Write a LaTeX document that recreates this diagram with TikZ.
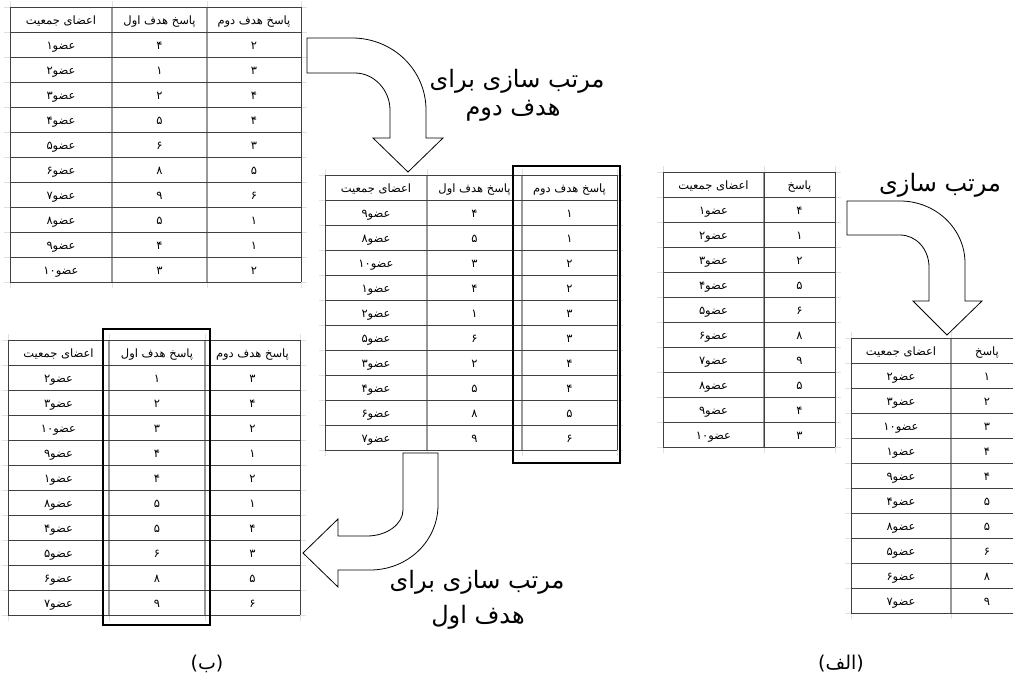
\documentclass[tikz,border=0pt]{standalone}
\usepackage{fontspec}
\newfontfamily\fa[Script=Arabic]{DejaVu Sans}
\TeXXeTstate=1
\newcommand\tblgrid[4]{%
  \pgfmathsetmacro\tbB{#2+275}%
  \foreach \x in {#1,#3,#4} \draw[stub] (\x,#2-6) -- (\x,\tbB+6);
  \foreach \i in {0,...,11} \draw[stub] (#1-6,#2+25*\i) -- (#4+6,#2+25*\i);
  \foreach \x in {#3} \draw[vl] (\x,#2) -- (\x,\tbB);
  \foreach \i in {0,...,11} \draw[hl] (#1,#2+25*\i) -- (#4,#2+25*\i);
  \draw[hl] (#1,#2) -- (#1,\tbB) (#4,#2) -- (#4,\tbB);
}
\begin{document}
\begin{tikzpicture}[x=1pt,y=-1pt,
  hl/.style={draw=black!75,line width=0.9pt},
  vl/.style={draw=black!40,line width=1.3pt},
  stub/.style={draw=black!12,line width=0.6pt},
  cell/.style={font=\fa\fontsize{11.5}{13}\selectfont,inner sep=0pt,anchor=base},
  selbox/.style={draw=black,line width=1.6pt},
  bigarrow/.style={draw=black,line width=0.8pt,fill=white,line join=miter},
  lbl/.style={font=\fa\fontsize{24}{28}\selectfont,inner sep=0pt,anchor=base},
  captext/.style={font=\fa\fontsize{19}{22}\selectfont,inner sep=0pt},
]
\fill[white] (0,0) rectangle (1013,686);
\useasboundingbox (0,0) rectangle (1013,686);

% ---------- table 1 (top left) ----------
\tblgrid{10}{7}{112,207}{301}
\node[cell] (ta-h1) at (61,24) {\beginR اعضای جمعیت\endR};
\node[cell] (ta-h2) at (159.5,24) {\beginR پاسخ هدف اول\endR};
\node[cell] (ta-h3) at (254,24) {\beginR پاسخ هدف دوم\endR};
\foreach \m/\a/\b [count=\i] in {۱/۴/۲,۲/۱/۳,۳/۲/۴,۴/۵/۴,۵/۶/۳,۶/۸/۵,۷/۹/۶,۸/۵/۱,۹/۴/۱,۱۰/۳/۲}{
  \node[cell] (ta-m\i) at (61,7+25*\i+17) {\beginR عضو\m\endR};
  \node[cell] (ta-a\i) at (159.5,7+25*\i+17) {\a};
  \node[cell] (ta-b\i) at (254,7+25*\i+17) {\b};
}

% ---------- table 2 (middle) ----------
\tblgrid{325}{175}{427,522}{617}
\node[cell] (tb-h1) at (376,192) {\beginR اعضای جمعیت\endR};
\node[cell] (tb-h2) at (474.5,192) {\beginR پاسخ هدف اول\endR};
\node[cell] (tb-h3) at (569.5,192) {\beginR پاسخ هدف دوم\endR};
\foreach \m/\a/\b [count=\i] in {۹/۴/۱,۸/۵/۱,۱۰/۳/۲,۱/۴/۲,۲/۱/۳,۵/۶/۳,۳/۲/۴,۴/۵/۴,۶/۸/۵,۷/۹/۶}{
  \node[cell] (tb-m\i) at (376,175+25*\i+17) {\beginR عضو\m\endR};
  \node[cell] (tb-a\i) at (474.5,175+25*\i+17) {\a};
  \node[cell] (tb-b\i) at (569.5,175+25*\i+17) {\b};
}
\draw[selbox] (513,166) rectangle (620,463);

% ---------- table 3 (bottom left) ----------
\tblgrid{8}{340}{109,205}{300}
\node[cell] (tc-h1) at (58.5,357) {\beginR اعضای جمعیت\endR};
\node[cell] (tc-h2) at (157,357) {\beginR پاسخ هدف اول\endR};
\node[cell] (tc-h3) at (252.5,357) {\beginR پاسخ هدف دوم\endR};
\foreach \m/\a/\b [count=\i] in {۲/۱/۳,۳/۲/۴,۱۰/۳/۲,۹/۴/۱,۱/۴/۲,۸/۵/۱,۴/۵/۴,۵/۶/۳,۶/۸/۵,۷/۹/۶}{
  \node[cell] (tc-m\i) at (58.5,340+25*\i+17) {\beginR عضو\m\endR};
  \node[cell] (tc-a\i) at (157,340+25*\i+17) {\a};
  \node[cell] (tc-b\i) at (252.5,340+25*\i+17) {\b};
}
\draw[selbox] (103,329) rectangle (210,625);

% ---------- table 4 (right, original) ----------
\tblgrid{663}{172}{764}{835}
\draw[hl] (764,172) -- (764,447);
\node[cell] (td-h1) at (713.5,189) {\beginR اعضای جمعیت\endR};
\node[cell] (td-h2) at (799.5,189) {\beginR پاسخ\endR};
\foreach \m/\a [count=\i] in {۱/۴,۲/۱,۳/۲,۴/۵,۵/۶,۶/۸,۷/۹,۸/۵,۹/۴,۱۰/۳}{
  \node[cell] (td-m\i) at (713.5,172+25*\i+17) {\beginR عضو\m\endR};
  \node[cell] (td-a\i) at (799.5,172+25*\i+17) {\a};
}

% ---------- table 5 (bottom right, sorted) ----------
\tblgrid{851}{338}{951}{1030}
\node[cell] (te-h1) at (901,355) {\beginR اعضای جمعیت\endR};
\node[cell] (te-h2) at (987,355) {\beginR پاسخ\endR};
\foreach \m/\a [count=\i] in {۲/۱,۳/۲,۱۰/۳,۱/۴,۹/۴,۴/۵,۸/۵,۵/۶,۶/۸,۷/۹}{
  \node[cell] (te-m\i) at (901,338+25*\i+17) {\beginR عضو\m\endR};
  \node[cell] (te-a\i) at (987,338+25*\i+17) {\a};
}

% ---------- arrows ----------
% top: sort by second objective
\draw[bigarrow] (307,38) -- (352,38) .. controls (393,38) and (426,70) .. (426,110)
  -- (426,138) -- (443,138) -- (408,172) -- (373,138) -- (390,138) -- (390,110)
  .. controls (390,90) and (374,73) .. (355,73) -- (307,73) -- cycle;
% right: sort
\draw[bigarrow] (847,201) -- (900,201) .. controls (936,201) and (965,229) .. (965,263)
  -- (965,301) -- (982,301) -- (947,335) -- (913,301) -- (929,301) -- (929,267)
  .. controls (929,249) and (916,235) .. (900,235) -- (847,235) -- cycle;
% bottom: sort by first objective
\draw[bigarrow] (403,453) -- (438,453) -- (438,505) .. controls (438,541) and (408,570) .. (370,570)
  -- (338,570) -- (338,587) -- (303,553) -- (338,519) -- (338,536) -- (367,536)
  .. controls (387,536) and (403,524) .. (403,510) -- cycle;

% ---------- labels ----------
\node[lbl] (s2a) at (517,87) {\beginR مرتب سازی برای\endR};
\node[lbl] (s2b) at (513,115) {\beginR هدف دوم\endR};
\node[lbl] (s0) at (940,191) {\beginR مرتب سازی\endR};
\node[lbl] (s1a) at (477,588) {\beginR مرتب سازی برای\endR};
\node[lbl] (s1b) at (478,623) {\beginR هدف اول\endR};
\node[captext] (capB) at (207,664) {\beginR(ب)\endR};
\node[captext] (capA) at (841,664) {\beginR(الف)\endR};
\end{tikzpicture}
\end{document}
